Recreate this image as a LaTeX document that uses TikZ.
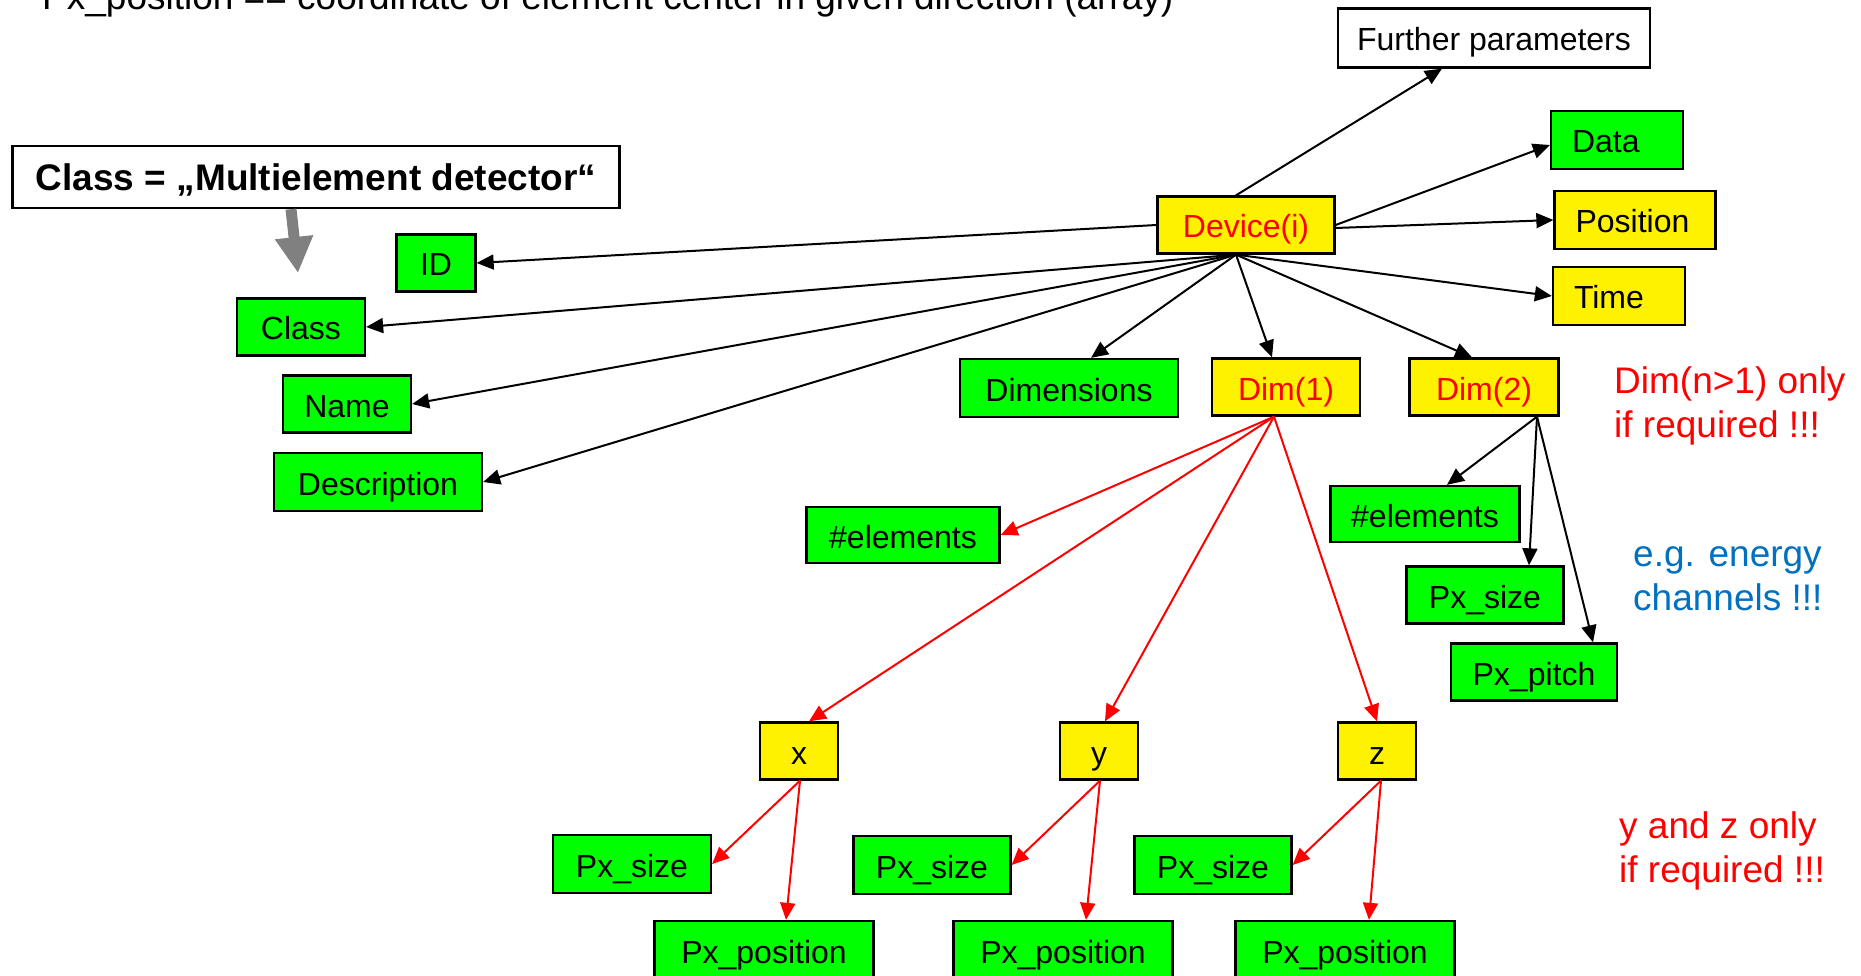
\documentclass[tikz,border=0pt]{standalone}
\usepackage{fontspec}
\setmainfont{Liberation Sans}
\usetikzlibrary{arrows.meta}
\definecolor{noteblue}{RGB}{0,112,192}
\tikzset{
  box/.style={draw=black, line width=2.3pt, inner sep=0pt,
    font=\fontsize{32}{36}\selectfont, text height=27pt, text depth=1pt},
  gbox/.style={box, fill=green},
  ybox/.style={box, fill=yellow},
  wbox/.style={box, fill=white},
  rtext/.style={text=red},
  lefttext/.style={text width=#1, align=left},
  conn/.style={line width=2pt, -{Triangle[length=17pt,width=15pt]}},
  rconn/.style={conn, draw=red, fill=red},
  note/.style={anchor=base west, inner sep=0pt, font=\fontsize{37}{44}\selectfont}
}
\begin{document}
\begin{tikzpicture}[x=1pt,y=-1pt]
\clip (0,0) rectangle (1861,976);
\fill[white] (0,0) rectangle (1861,976);

% heading line
\node[anchor=base west, inner sep=0pt, font=\fontsize{37}{40}\selectfont] (legend) at (42,10)
  {Px\_position == coordinate of element center in given direction (array)};

% class definition and its arrow
\node[wbox, minimum width=607pt, minimum height=62pt, text height=27pt, text depth=0pt,
  font=\bfseries\fontsize{37}{40}\selectfont]
  (cdef) at (316,177) {Class = „Multielement detector“};
\coordinate (gtip) at (298,273);
\draw[line width=11pt, draw=gray, fill=gray, -{Triangle[length=36pt,width=36pt]}]
  ([xshift=-25pt]cdef.south) -- (gtip);

% device and its attributes
\node[ybox, rtext, minimum width=177pt, minimum height=57pt] (dev) at (1246,225) {Device(i)};
\node[wbox, minimum width=312pt, minimum height=59pt] (further) at (1494,38) {Further parameters};
\node[gbox, lefttext=90pt, minimum width=132pt, minimum height=58pt] (data) at (1617,140) {Data};
\node[ybox, lefttext=119pt, minimum width=161pt, minimum height=58pt] (pos) at (1635,220) {Position};
\node[ybox, lefttext=90pt, minimum width=132pt, minimum height=58pt] (time) at (1619,296) {Time};
\node[gbox, minimum width=79pt, minimum height=57pt] (id) at (436,263) {ID};
\node[gbox, minimum width=128pt, minimum height=57pt] (cls) at (301,327) {Class};
\node[gbox, minimum width=128pt, minimum height=57pt] (name) at (347,404) {Name};
\node[gbox, minimum width=208pt, minimum height=58pt] (desc) at (378,482) {Description};
\node[gbox, minimum width=218pt, minimum height=58pt] (dims) at (1069,388) {Dimensions};
\node[ybox, rtext, minimum width=148pt, minimum height=57pt] (dim1) at (1286,387) {Dim(1)};
\node[ybox, rtext, minimum width=149pt, minimum height=57pt] (dim2) at (1484,387) {Dim(2)};

% second dimension
\node[gbox, minimum width=189pt, minimum height=56pt] (el2) at (1425,514) {\#elements};
\node[gbox, minimum width=157pt, minimum height=57pt] (ps2) at (1485,595) {Px\_size};
\node[gbox, minimum width=166pt, minimum height=57pt] (pitch) at (1534,672) {Px\_pitch};

% first dimension
\node[gbox, minimum width=193pt, minimum height=56pt] (el1) at (903,535) {\#elements};
\node[ybox, minimum width=78pt, minimum height=57pt] (nx) at (799,751) {x};
\node[ybox, minimum width=78pt, minimum height=57pt] (ny) at (1099,751) {y};
\node[ybox, minimum width=78pt, minimum height=57pt] (nz) at (1377,751) {z};
\node[gbox, minimum width=158pt, minimum height=58pt] (psx) at (632,864) {Px\_size};
\node[gbox, minimum width=157pt, minimum height=58pt] (psy) at (932,865) {Px\_size};
\node[gbox, minimum width=157pt, minimum height=58pt] (psz) at (1213,865) {Px\_size};
\node[gbox, minimum width=219pt, minimum height=58pt] (ppx) at (764,950) {Px\_position};
\node[gbox, minimum width=219pt, minimum height=58pt] (ppy) at (1063,950) {Px\_position};
\node[gbox, minimum width=219pt, minimum height=58pt] (ppz) at (1345,950) {Px\_position};

% remarks
\node[note, text=red] (rem1a) at (1614,393) {Dim(n>1) only};
\node[note, text=red] (rem1b) at (1614,437) {if required !!!};
\node[note, text=noteblue] (rem2a) at (1633,566) {e.g. energy};
\node[note, text=noteblue] (rem2b) at (1633,610) {channels !!!};
\node[note, text=red] (rem3a) at (1619,838) {y and z only};
\node[note, text=red] (rem3b) at (1619,882) {if required !!!};

% connectors from the device
\coordinate (devs) at ([xshift=-10pt]dev.south);
\draw[conn] ([xshift=-10pt]dev.north) -- ([xshift=-52pt]further.south);
\draw[conn] (dev.east) -- ([yshift=-5pt]data.west);
\draw[conn] ([yshift=-3pt]dev.east) -- (pos.west);
\draw[conn] (devs) -- (time.west);
\draw[conn] (dev.west) -- (id.east);
\draw[conn] (devs) -- (cls.east);
\draw[conn] (devs) -- (name.east);
\draw[conn] (devs) -- (desc.east);
\draw[conn] (devs) -- ([xshift=22pt]dims.north);
\draw[conn] (devs) -- ([xshift=-14pt]dim1.north);
\draw[conn] (devs) -- ([xshift=-12pt]dim2.north);

% connectors of the second dimension
\coordinate (d2s) at ([xshift=53pt]dim2.south);
\draw[conn] (d2s) -- ([xshift=22pt]el2.north);
\draw[conn] (d2s) -- ([xshift=44pt]ps2.north);
\draw[conn] (d2s) -- ([xshift=59pt]pitch.north);

% connectors of the first dimension
\coordinate (d1s) at ([xshift=-12pt]dim1.south);
\draw[rconn] (d1s) -- (el1.east);
\draw[rconn] (d1s) -- ([xshift=10pt]nx.north);
\draw[rconn] (d1s) -- ([xshift=6pt]ny.north);
\draw[rconn] (d1s) -- (nz.north);
\draw[rconn] ([xshift=1pt]nx.south) -- (psx.east);
\draw[rconn] ([xshift=1pt]nx.south) -- ([xshift=22pt]ppx.north);
\draw[rconn] ([xshift=1pt]ny.south) -- (psy.east);
\draw[rconn] ([xshift=1pt]ny.south) -- ([xshift=23pt]ppy.north);
\draw[rconn] ([xshift=4pt]nz.south) -- (psz.east);
\draw[rconn] ([xshift=4pt]nz.south) -- ([xshift=24pt]ppz.north);
\end{tikzpicture}
\end{document}
